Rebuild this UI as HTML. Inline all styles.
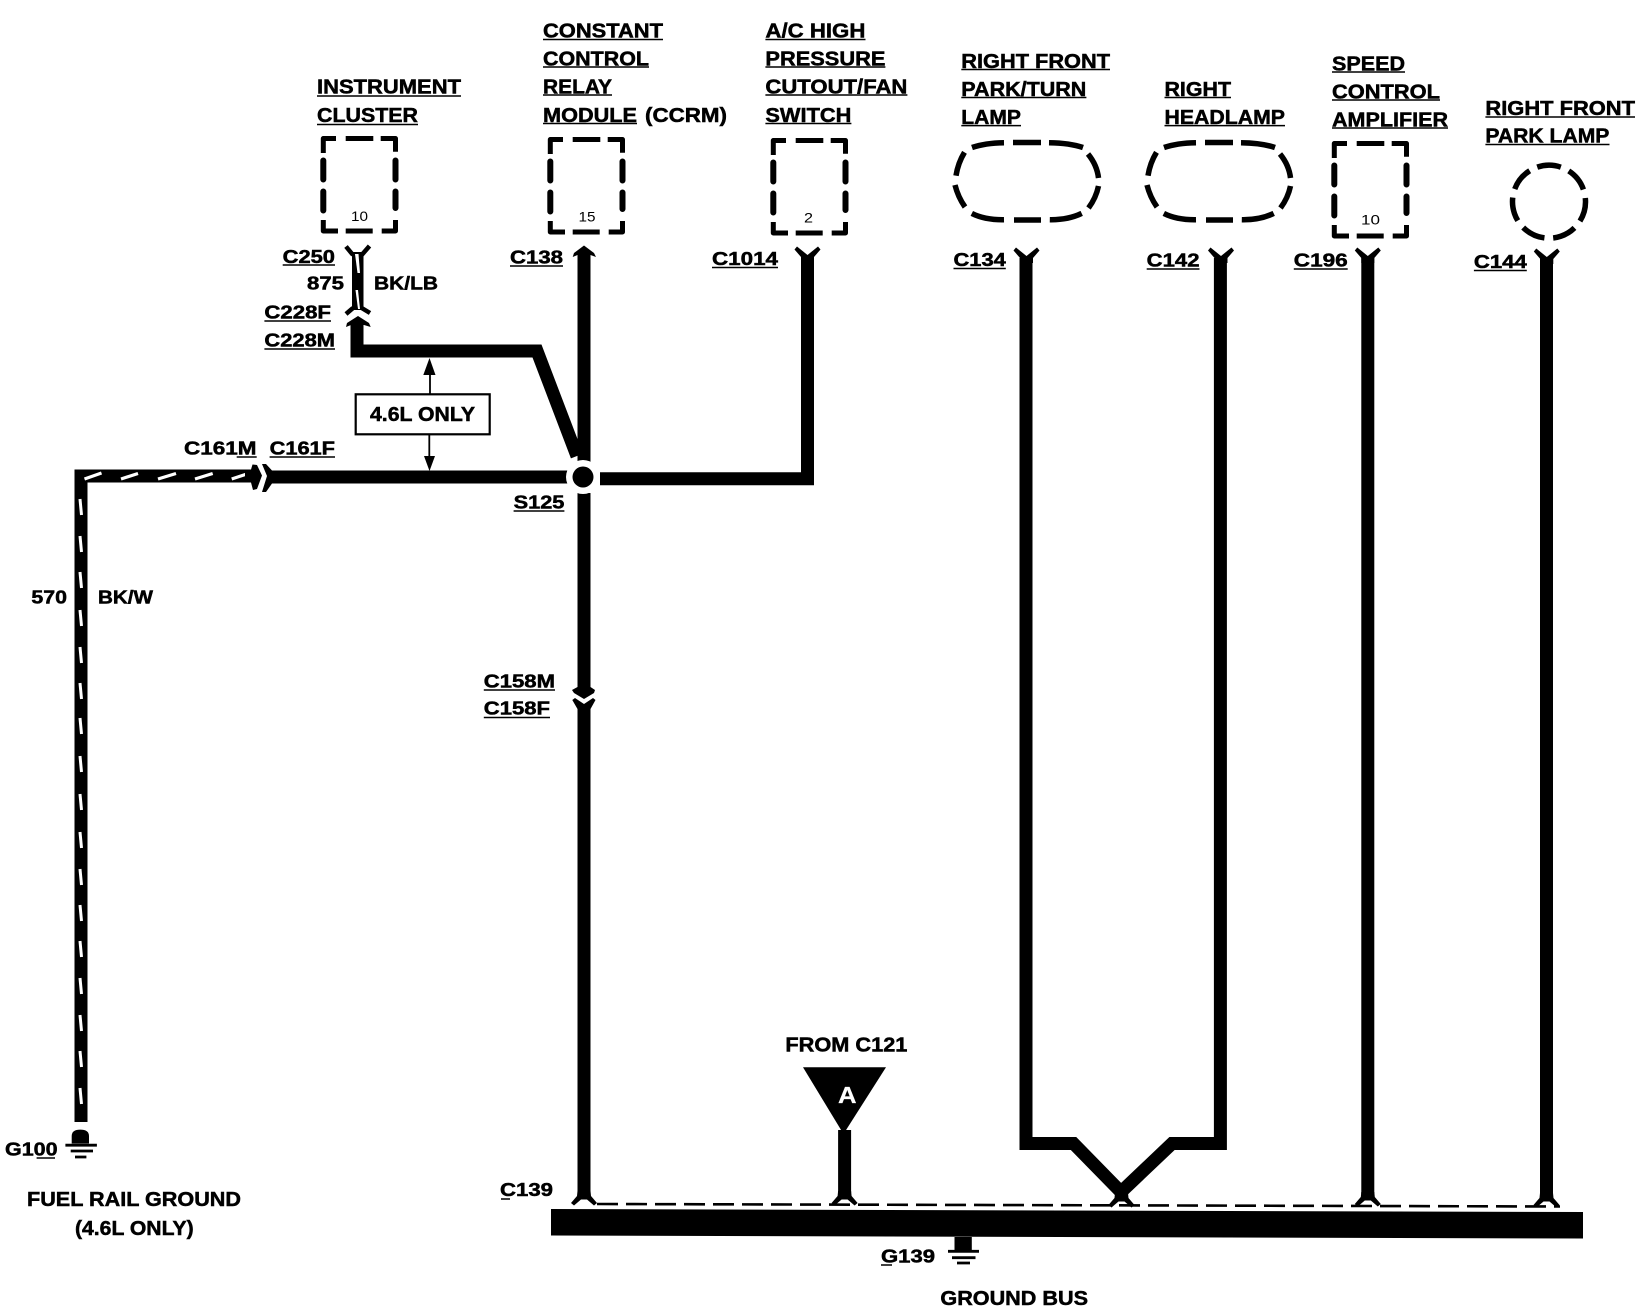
<!DOCTYPE html>
<html>
<head>
<meta charset="utf-8">
<title>Ground distribution wiring diagram</title>
<style>
html,body{margin:0;padding:0;background:#fff;width:1642px;height:1312px;overflow:hidden}
svg{display:block}
text{font-family:"Liberation Sans",Arial,sans-serif;font-weight:bold;fill:#000;stroke:#000;stroke-width:.5}
.h{font-size:20px}
.c{font-size:18.5px}
.n{font-size:14px;font-weight:normal;stroke-width:0}
</style>
</head>
<body>
<svg width="1642" height="1312" viewBox="0 0 1642 1312" xmlns="http://www.w3.org/2000/svg">
<rect width="1642" height="1312" fill="#fff"/>
<defs>
  <g id="dbox" fill="none" stroke="#000">
    <path stroke-width="5" stroke-linejoin="round" d="M323.3 153V138.5H336M345.7 138.5H373.3M380.7 138.5H395.5V151.7M323.3 220V231H338M345.7 231H372.7M381.7 231H395.5V220"/>
    <path stroke-width="6" stroke-linecap="round" d="M323.3 160.5V179.5M323.3 191.5V210.5M395.5 160.5V179.5M395.5 191.5V208"/>
  </g>
  <g id="oval" fill="none" stroke="#000" stroke-width="5.5">
    <path d="M972 147.5Q985 143 1004 142.7M1013 142.5H1041M1049 142.7Q1070 143 1083 147.5M1088 154Q1097 165 1098.5 178M1098.5 186Q1096 198 1088.5 208M1081.7 213.4Q1068 220 1049.8 219.7M1014 220H1041M1004 219.7Q985 220 971.8 213.4M965 207Q958 197 955 185M956 175.7Q958 163 964.5 152.3"/>
  </g>
  <polygon id="yc" points="-13,1.5 -10.5,-1.5 0,7 10.5,-1.5 13,1.5 6.5,9 6.5,14 -6.5,14 -6.5,9" fill="#000"/>
  <polygon id="ft" points="-6.5,-8 6.5,-8 7,-3 13,4 10,6.5 3,0.5 -3,0.5 -10,6.5 -13,4 -7,-3" fill="#000"/>
</defs>

<!-- component boxes -->
<use href="#dbox"/>
<use href="#dbox" transform="translate(227,1)"/>
<use href="#dbox" transform="translate(450,2)"/>
<use href="#dbox" transform="translate(1011,5)"/>
<use href="#oval"/>
<use href="#oval" transform="translate(192,0)"/>
<circle cx="1549" cy="201.7" r="36.5" fill="none" stroke="#000" stroke-width="5.5" stroke-dasharray="24 8.76" transform="rotate(-108.8 1549 201.7)"/>

<!-- pin numbers -->
<text class="n" x="351" y="221" textLength="17" lengthAdjust="spacingAndGlyphs">10</text>
<text class="n" x="578.5" y="221.5" textLength="17" lengthAdjust="spacingAndGlyphs">15</text>
<text class="n" x="804" y="222.5" textLength="9" lengthAdjust="spacingAndGlyphs">2</text>
<text class="n" x="1361" y="224.5" textLength="19" lengthAdjust="spacingAndGlyphs">10</text>

<!-- bus -->
<polygon points="551,1209 1583,1212 1583,1238.5 551,1235.5" fill="#000"/>
<line x1="597" y1="1204" x2="1560" y2="1206.5" stroke="#000" stroke-width="2.6" stroke-dasharray="21 8"/>

<!-- wires -->
<g fill="none" stroke="#000" stroke-width="13">
  <path d="M81 1122V476H250" stroke-linejoin="miter"/>
  <path d="M270 477H569"/>
  <path d="M584 252V462"/>
  <path d="M584 493V685"/>
  <path d="M584 708V1193"/>
  <path d="M600 478.7H807.5V255"/>
  <path d="M357 322V351H537L577 456" stroke-linejoin="miter"/>
  <path d="M1026 258V1143.5H1073.5L1121 1192L1172 1143.5H1220.4V258" stroke-linejoin="miter"/>
  <path d="M1367.8 258V1194"/>
  <path d="M1546.5 258V1195"/>
  <path d="M844.6 1130V1193"/>
</g>

<!-- BK/W stripes -->
<g stroke="#fff" fill="none">
  <path stroke-width="3.2" d="M84.5 479L101.5 473M121 479L138 473.5M158 479L176 473.5M195 479L212.7 473.5M231.7 479L248.3 473.5"/>
  <path stroke-width="3" d="M80 499L81.5 515M80 536L81.5 552M80 572L81.5 588M80 610L81.5 626M80 647L81.5 663M80 683L81.5 699M80 718L81.5 734M80 756L81.5 772M80 794L81.5 810M80 832L81.5 848M80 869L81.5 885M80 905L81.5 921M80 941L81.5 957M80 978L81.5 994M80 1015L81.5 1031M80 1051L81.5 1067M80 1088L81.5 1104"/>
</g>

<!-- C161 connector -->
<polygon points="245,469.5 251,469.5 252.5,464.5 257,465 262,475.5 257,489 253,490 251,482.5 245,482.5" fill="#000"/>
<polygon points="262,464 266,464 272,470.5 272,483.5 266,492 262,492 267,476" fill="#000"/>

<!-- BK/LB wire + connectors -->
<rect x="352" y="252" width="11.5" height="58" fill="#000"/>
<polygon points="355,254 358.5,254 360,273 357.5,273" fill="#fff"/>
<polygon points="355.5,290 358,290 360,309 358,309" fill="#fff"/>
<path d="M346 246.5L353 255M369.5 246L361.7 255M346 314L353 308M370 313L361.7 308" fill="none" stroke="#000" stroke-width="4.5"/>
<polygon points="346,327 347,323 358,316 369,323 370.7,327 364,325 351,325" fill="#000"/>

<!-- male arrow heads -->
<polygon points="572.7,257 574,253 584,245.5 594,253 596,257 590.5,255 577.5,255" fill="#000"/>
<polygon points="577.5,680 590.5,680 590.5,687 595,690 594,693 584,699 574,693 572,690 577.5,687" fill="#000"/>
<polygon points="572.3,700 575,698 584,704 593,698 595.5,700 590.5,709 590.5,712 577.5,712 577.5,709" fill="#000"/>

<!-- Y connectors -->
<use href="#yc" transform="translate(807.5,248)"/>
<use href="#yc" transform="translate(1026.5,249)"/>
<use href="#yc" transform="translate(1221,249)"/>
<use href="#yc" transform="translate(1367.8,249)"/>
<use href="#yc" transform="translate(1546.8,250)"/>

<!-- feet -->
<use href="#ft" transform="translate(584,1199)"/>
<use href="#ft" transform="translate(844.6,1199)"/>
<use href="#ft" transform="translate(1121.5,1201)"/>
<use href="#ft" transform="translate(1367.8,1200)"/>
<use href="#ft" transform="translate(1546.5,1201)"/>

<!-- S125 splice -->
<circle cx="583" cy="477" r="17" fill="#fff"/>
<circle cx="583" cy="477" r="10.5" fill="#000"/>

<!-- 4.6L ONLY box -->
<rect x="355.7" y="394.3" width="134" height="40" fill="#fff" stroke="#000" stroke-width="2.2"/>
<path d="M430 394V370M429.3 435V458" stroke="#000" stroke-width="1.8" fill="none"/>
<polygon points="429.5,358 423.3,375 435.5,375" fill="#000"/>
<polygon points="424,456 435,456 429.5,471" fill="#000"/>

<!-- A triangle -->
<polygon points="803,1067.3 886,1067.3 843.5,1134" fill="#000"/>
<text x="838" y="1103" style="fill:#fff;stroke:#fff;font-size:23px;stroke-width:.2" textLength="18.6" lengthAdjust="spacingAndGlyphs">A</text>

<!-- grounds -->
<path d="M71.7 1143.5V1136Q71.7 1129.6 80.3 1129.6Q89 1129.6 89 1136V1143.5Z" fill="#000"/>
<path d="M65.4 1145.2H96.9M70.7 1151H93M75 1157H86.4" stroke="#000" stroke-width="2.8" fill="none"/>
<path d="M954.5 1250V1237H971.8V1250Z" fill="#000"/>
<path d="M948 1251.3H979M952 1257.7H975.5M957 1263H970" stroke="#000" stroke-width="2.8" fill="none"/>

<!-- underlines: connector labels -->
<path fill="none" stroke="#000" stroke-width="1.5" d="
M282.7 265H335M264.4 321H331M264.4 349H335
M510 266H563M712 267.5H778
M953.5 268.5H1005.8M1146.7 269H1199.5M1293.8 269H1347.7M1473.9 270.5H1526.8
M236.7 457H256.7M269.6 457H335M513.6 511H564.4
M483.8 690H555M483.8 717.5H550
M36.6 1158H55M501 1199H510M881 1265H892"/>

<!-- component labels -->
<g transform="translate(0,-1)">
<path fill="none" stroke="#000" stroke-width="1.5" d="
M317 97H461M317 125.5H418
M543 40.5H663M543 68H649M543 96H612M543 124.5H637
M765.4 40.5H865.5M765.4 68H885.4M765.4 96H907.4M765.4 124.5H851.4
M961.3 70.5H1110M961.3 98.5H1086.4M961.3 126.6H1021
M1164.5 98.5H1231M1164.5 126.6H1285
M1332 73H1405M1332 101H1440M1332 129H1448
M1485.4 118H1635M1485.4 145.5H1609.5"/>
<text class="h" x="317" y="94.3" textLength="144" lengthAdjust="spacingAndGlyphs">INSTRUMENT</text>
<text class="h" x="317" y="122.8" textLength="101" lengthAdjust="spacingAndGlyphs">CLUSTER</text>
<text class="h" x="543" y="38.7" textLength="120" lengthAdjust="spacingAndGlyphs">CONSTANT</text>
<text class="h" x="543" y="66.3" textLength="106" lengthAdjust="spacingAndGlyphs">CONTROL</text>
<text class="h" x="543" y="94.3" textLength="69" lengthAdjust="spacingAndGlyphs">RELAY</text>
<text class="h" x="543" y="122.8" textLength="94" lengthAdjust="spacingAndGlyphs">MODULE</text>
<text class="h" x="645" y="122.8" textLength="82" lengthAdjust="spacingAndGlyphs">(CCRM)</text>
<text class="h" x="765.4" y="38.7" textLength="100" lengthAdjust="spacingAndGlyphs">A/C HIGH</text>
<text class="h" x="765.4" y="66.3" textLength="120" lengthAdjust="spacingAndGlyphs">PRESSURE</text>
<text class="h" x="765.4" y="94.3" textLength="142" lengthAdjust="spacingAndGlyphs">CUTOUT/FAN</text>
<text class="h" x="765.4" y="122.8" textLength="86" lengthAdjust="spacingAndGlyphs">SWITCH</text>
<text class="h" x="961.3" y="68.8" textLength="148.7" lengthAdjust="spacingAndGlyphs">RIGHT FRONT</text>
<text class="h" x="961.3" y="96.8" textLength="125" lengthAdjust="spacingAndGlyphs">PARK/TURN</text>
<text class="h" x="961.3" y="124.9" textLength="59.7" lengthAdjust="spacingAndGlyphs">LAMP</text>
<text class="h" x="1164.5" y="96.8" textLength="66.5" lengthAdjust="spacingAndGlyphs">RIGHT</text>
<text class="h" x="1164.5" y="124.9" textLength="120.5" lengthAdjust="spacingAndGlyphs">HEADLAMP</text>
<text class="h" x="1332" y="71.3" textLength="73" lengthAdjust="spacingAndGlyphs">SPEED</text>
<text class="h" x="1332" y="99.3" textLength="108" lengthAdjust="spacingAndGlyphs">CONTROL</text>
<text class="h" x="1332" y="127.3" textLength="116" lengthAdjust="spacingAndGlyphs">AMPLIFIER</text>
<text class="h" x="1485.4" y="116.1" textLength="149.6" lengthAdjust="spacingAndGlyphs">RIGHT FRONT</text>
<text class="h" x="1485.4" y="143.7" textLength="124" lengthAdjust="spacingAndGlyphs">PARK LAMP</text>
</g>

<!-- connector labels -->
<text class="c" x="282.7" y="263" textLength="52.3" lengthAdjust="spacingAndGlyphs">C250</text>
<text class="c" x="307" y="289.6" textLength="37" lengthAdjust="spacingAndGlyphs">875</text>
<text class="c" x="374" y="289.6" textLength="64" lengthAdjust="spacingAndGlyphs">BK/LB</text>
<text class="c" x="264.4" y="318.7" textLength="66.6" lengthAdjust="spacingAndGlyphs">C228F</text>
<text class="c" x="264.4" y="346.7" textLength="70.6" lengthAdjust="spacingAndGlyphs">C228M</text>
<text class="c" x="510" y="263.7" textLength="53" lengthAdjust="spacingAndGlyphs">C138</text>
<text class="c" x="712" y="265" textLength="66" lengthAdjust="spacingAndGlyphs">C1014</text>
<text class="c" x="953.5" y="266" textLength="52.3" lengthAdjust="spacingAndGlyphs">C134</text>
<text class="c" x="1146.7" y="266.7" textLength="52.8" lengthAdjust="spacingAndGlyphs">C142</text>
<text class="c" x="1293.8" y="266.7" textLength="53.9" lengthAdjust="spacingAndGlyphs">C196</text>
<text class="c" x="1473.9" y="268.2" textLength="52.9" lengthAdjust="spacingAndGlyphs">C144</text>
<text class="h" x="370" y="421.2" textLength="105" lengthAdjust="spacingAndGlyphs">4.6L ONLY</text>
<text class="c" x="184" y="454.4" textLength="72.5" lengthAdjust="spacingAndGlyphs">C161M</text>
<text class="c" x="269.6" y="454.4" textLength="65.4" lengthAdjust="spacingAndGlyphs">C161F</text>
<text class="c" x="513.6" y="508.7" textLength="50.8" lengthAdjust="spacingAndGlyphs">S125</text>
<text class="c" x="31.4" y="603.3" textLength="35.6" lengthAdjust="spacingAndGlyphs">570</text>
<text class="c" x="98" y="603.3" textLength="55" lengthAdjust="spacingAndGlyphs">BK/W</text>
<text class="c" x="483.8" y="687.7" textLength="71.2" lengthAdjust="spacingAndGlyphs">C158M</text>
<text class="c" x="483.8" y="714.7" textLength="66.2" lengthAdjust="spacingAndGlyphs">C158F</text>
<text class="h" x="785.4" y="1051.3" textLength="122" lengthAdjust="spacingAndGlyphs">FROM C121</text>
<text class="c" x="5" y="1155.7" textLength="52.6" lengthAdjust="spacingAndGlyphs">G100</text>
<text class="h" x="27" y="1206.2" textLength="214" lengthAdjust="spacingAndGlyphs">FUEL RAIL GROUND</text>
<text class="h" x="75" y="1235.2" textLength="118.7" lengthAdjust="spacingAndGlyphs">(4.6L ONLY)</text>
<text class="c" x="500" y="1196.2" textLength="53" lengthAdjust="spacingAndGlyphs">C139</text>
<text class="c" x="881" y="1262.3" textLength="54" lengthAdjust="spacingAndGlyphs">G139</text>
<text class="h" x="940.4" y="1305.2" textLength="147.6" lengthAdjust="spacingAndGlyphs">GROUND BUS</text>
</svg>
</body>
</html>
